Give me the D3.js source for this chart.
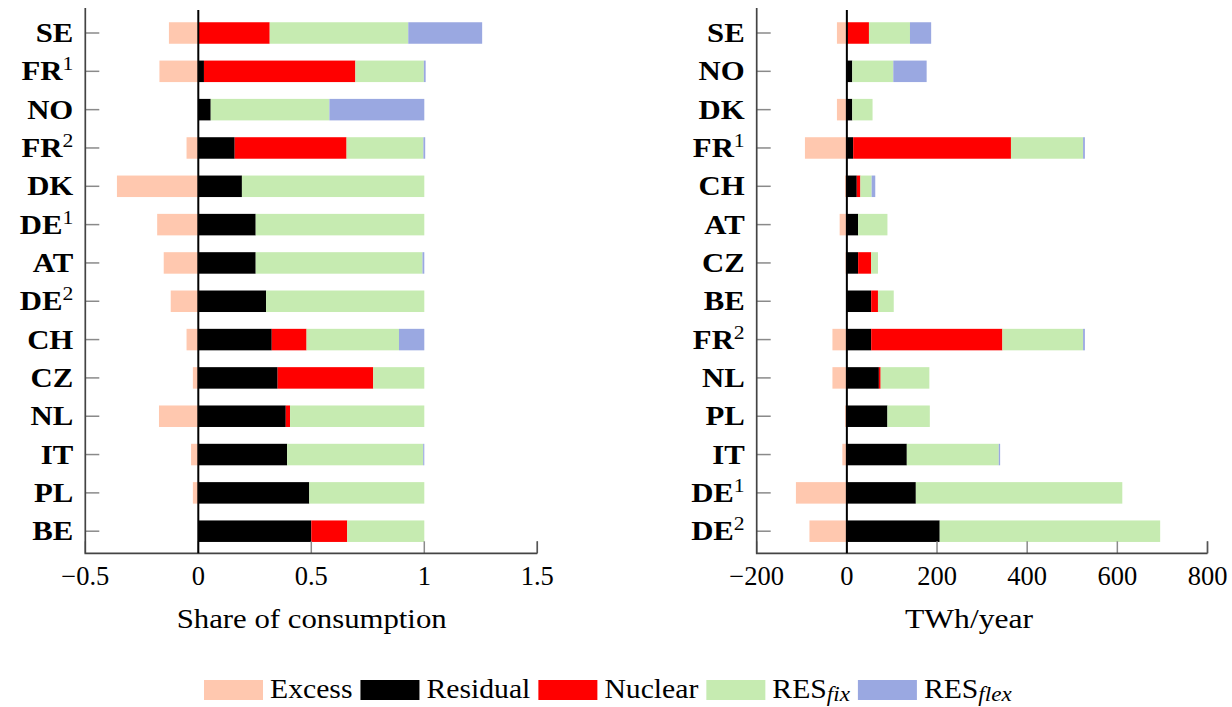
<!DOCTYPE html>
<html>
<head>
<meta charset="utf-8">
<script src="https://cdn.jsdelivr.net/npm/d3@7"></script>
<style>
  html, body { margin: 0; padding: 0; background: #fff; }
  svg { display: block; }
</style>
</head>
<body>
<svg id="chart" width="1232" height="707"></svg>
<script>
// Energy balance per country: share of consumption (left) and TWh/year (right).
const seriesKeys   = ["excess", "residual", "nuclear", "resFix", "resFlex"];
const seriesNames  = ["Excess", "Residual", "Nuclear", "RES", "RES"];
const seriesSubs   = ["", "", "", "fix", "flex"];
const seriesColors = ["#ffc8af", "#000000", "#ff0000", "#c6ebb1", "#9aa8e1"];

// Left panel: share of consumption
const leftCountries = ["SE", "FR1", "NO", "FR2", "DK", "DE1", "AT", "DE2", "CH", "CZ", "NL", "IT", "PL", "BE"];
const leftExcess    = [-0.13, -0.172, 0, -0.052, -0.36, -0.182, -0.153, -0.122, -0.052, -0.024, -0.174, -0.032, -0.024, 0];
const leftResidual  = [0, 0.025, 0.055, 0.161, 0.193, 0.254, 0.254, 0.30, 0.325, 0.351, 0.387, 0.393, 0.491, 0.50];
const leftNuclear   = [0.316, 0.67, 0, 0.495, 0, 0, 0, 0, 0.154, 0.423, 0.019, 0, 0, 0.159];
const leftResFix    = [0.613, 0.303, 0.525, 0.34, 0.807, 0.746, 0.738, 0.70, 0.409, 0.226, 0.594, 0.602, 0.509, 0.341];
const leftResFlex   = [0.327, 0.008, 0.42, 0.008, 0, 0, 0.008, 0, 0.112, 0, 0, 0.005, 0, 0];
const leftTicks     = [-0.5, 0, 0.5, 1, 1.5];

// Right panel: TWh per year
const rightCountries = ["SE", "NO", "DK", "FR1", "CH", "AT", "CZ", "BE", "FR2", "NL", "PL", "IT", "DE1", "DE2"];
const rightExcess    = [-22, 0, -22, -93, -4, -16, -3, -2, -32, -32, -4, -10, -113, -83];
const rightResidual  = [0, 12, 12, 14, 22, 25, 25, 54, 54, 71, 90, 133, 153, 206];
const rightNuclear   = [49, 0, 0, 350, 8, 0, 29, 15, 291, 4, 0, 0, 0, 0];
const rightResFix    = [91, 91, 45, 160, 25, 65, 15, 35, 179, 108, 94, 204, 458, 489];
const rightResFlex   = [47, 74, 0, 4, 8, 0, 0, 0, 4, 0, 0, 3, 0, 0];
const rightTicks     = [-200, 0, 200, 400, 600, 800];

const FONT = "Liberation Serif";

const svg = d3.select("#chart").attr("font-family", FONT);

function buildRows(countries, cols) {
  return countries.map((c, i) => {
    const row = { country: c };
    seriesKeys.forEach((k, j) => { row[k] = cols[j][i]; });
    return row;
  });
}

const fmtTick = v => (v < 0 ? "\u2212" + Math.abs(v) : String(v));

function drawPanel(opts) {
  const { rows, domain, ticks, xRange, title, titleX, titleWidth } = opts;
  const top = 8, bottom = 553.3;
  const x = d3.scaleLinear().domain(domain).range(xRange);
  const y = d3.scalePoint().domain(rows.map(r => r.country)).range([33, 531.2]);
  const barH = 21.5;

  const g = svg.append("g");

  // stacked bars; excess stacks leftwards from zero
  const stacked = d3.stack().keys(seriesKeys).offset(d3.stackOffsetDiverging)(rows);
  stacked.forEach((layer, li) => {
    g.append("g").attr("fill", seriesColors[li])
      .selectAll("rect").data(layer).join("rect")
      .attr("x", d => x(Math.min(d[0], d[1])))
      .attr("width", d => Math.abs(x(d[1]) - x(d[0])))
      .attr("y", d => y(d.data.country) - barH / 2)
      .attr("height", barH);
  });

  // x ticks pointing up from the bottom axis
  g.append("g").selectAll("line").data(ticks).join("line")
    .attr("x1", d => x(d)).attr("x2", d => x(d))
    .attr("y1", bottom).attr("y2", bottom - 12)
    .attr("stroke", "#8a8a8a").attr("stroke-width", 1.5);

  // y ticks pointing right from the left axis
  g.append("g").selectAll("line").data(rows).join("line")
    .attr("x1", xRange[0]).attr("x2", xRange[0] + 14)
    .attr("y1", d => y(d.country)).attr("y2", d => y(d.country))
    .attr("stroke", "#8a8a8a").attr("stroke-width", 1.5);

  // axis lines
  g.append("path")
    .attr("d", d3.line()([[xRange[0], top], [xRange[0], bottom], [xRange[1], bottom]]))
    .attr("fill", "none").attr("stroke", "#444").attr("stroke-width", 1.7);
  g.append("line")
    .attr("x1", xRange[1]).attr("x2", xRange[1])
    .attr("y1", bottom).attr("y2", bottom - 12)
    .attr("stroke", "#555").attr("stroke-width", 1.5);

  // zero line
  g.append("line")
    .attr("x1", x(0)).attr("x2", x(0))
    .attr("y1", top + 2).attr("y2", bottom)
    .attr("stroke", "#000").attr("stroke-width", 2);

  // x tick labels
  g.append("g").selectAll("text").data(ticks).join("text")
    .attr("x", d => x(d)).attr("y", 585)
    .attr("text-anchor", "middle")
    .attr("font-size", 26.5)
    .text(fmtTick);

  // country labels (bold, with optional superscript digit)
  const labels = g.append("g").selectAll("text").data(rows).join("text")
    .attr("text-anchor", "end")
    .attr("transform", d => `translate(${xRange[0] - 12},${y(d.country) + 9}) scale(1.14,1)`)
    .attr("font-size", 27).attr("font-weight", "bold");
  labels.each(function (d) {
    const m = d.country.match(/^([A-Z]+)(\d?)$/);
    const t = d3.select(this);
    t.append("tspan").text(m[1]);
    if (m[2]) {
      t.append("tspan").attr("dy", -10).attr("font-size", 19)
        .attr("font-weight", "normal").text(m[2]);
    }
  });

  // axis title
  g.append("text")
    .attr("x", titleX).attr("y", 628)
    .attr("text-anchor", "middle")
    .attr("textLength", titleWidth).attr("lengthAdjust", "spacingAndGlyphs")
    .attr("font-size", 28)
    .text(title);
}

drawPanel({
  rows: buildRows(leftCountries, [leftExcess, leftResidual, leftNuclear, leftResFix, leftResFlex]),
  domain: [-0.5, 1.5], ticks: leftTicks, xRange: [85.3, 537.3],
  title: "Share of consumption", titleX: 311.7, titleWidth: 270
});

drawPanel({
  rows: buildRows(rightCountries, [rightExcess, rightResidual, rightNuclear, rightResFix, rightResFlex]),
  domain: [-200, 800], ticks: rightTicks, xRange: [756.7, 1207.5],
  title: "TWh/year", titleX: 969, titleWidth: 128
});

// legend: swatch followed by a slightly widened serif label
const legend = svg.append("g");
const legendStretch = 1.1;
let lx = 204;
seriesKeys.forEach((k, i) => {
  legend.append("rect")
    .attr("x", lx).attr("y", 680).attr("width", 59).attr("height", 20)
    .attr("fill", seriesColors[i]);
  lx += 59 + 7;
  const t = legend.append("text")
    .attr("transform", `translate(${lx},698) scale(${legendStretch},1)`)
    .attr("font-size", 27);
  t.append("tspan").text(seriesNames[i]);
  if (seriesSubs[i]) {
    t.append("tspan").attr("dy", 3).attr("font-size", 21)
      .attr("font-style", "italic").text(seriesSubs[i]);
  }
  lx += t.node().getComputedTextLength() * legendStretch + 8;
});
</script>
</body>
</html>
